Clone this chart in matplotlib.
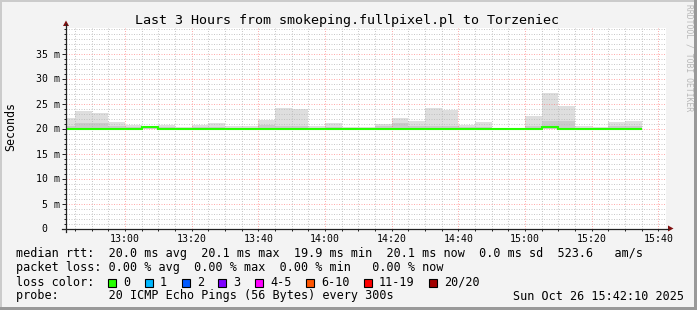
import numpy as np
import matplotlib.pyplot as plt
from matplotlib.patches import Rectangle, Polygon
from matplotlib.lines import Line2D
from matplotlib.ticker import FixedLocator, FuncFormatter

plt.rcParams['font.family'] = 'DejaVu Sans Mono'

W, H = 697, 310

# graph window: last 3 hours ending 15:42:10 (minutes since midnight)
t_end = 15 * 60 + 42 + 10 / 60
t_start = t_end - 180

# 5 minute buckets, first one starts at 12:40
bucket_start = 12 * 60 + 40
bucket_len = 5

# smoke (ms): top of the light band, top of the dense band, bottom
smoke_max = [22.2, 23.6, 23.1, 21.3, 20.8, 20.3, 20.7, 20.3, 20.7, 21.2,
             20.5, 20.5, 21.8, 24.1, 24.0, 20.5, 21.2, 20.4, 20.4, 20.9,
             22.1, 21.5, 24.1, 23.8, 20.8, 21.4, 20.2, 20.2, 22.6, 27.1,
             24.6, 20.5, 20.4, 21.3, 21.6]
smoke_mid = [20.5, 21.2, 21.1, 20.6, 20.3, 20.3, 20.3, 20.2, 20.3, 20.4,
             20.2, 20.2, 20.7, 20.6, 20.6, 20.2, 20.3, 20.2, 20.2, 20.5,
             21.1, 20.6, 20.6, 20.6, 20.3, 20.4, 20.1, 20.1, 20.6, 21.6,
             21.5, 20.2, 20.2, 20.5, 20.5]
smoke_min = [19.9, 19.9, 19.9, 19.9, 19.9, 19.9, 19.9, 19.9, 19.9, 19.9,
             19.9, 19.9, 19.9, 19.9, 19.9, 19.9, 19.9, 19.9, 19.9, 19.9,
             19.9, 19.9, 19.9, 19.9, 19.9, 19.9, 19.9, 19.9, 19.9, 19.9,
             19.9, 19.9, 19.9, 19.9, 19.9]
median_rtt = [20.0, 20.0, 20.0, 20.0, 20.0, 20.25, 20.0, 20.0, 20.0, 20.0,
              20.0, 20.0, 20.0, 20.0, 20.0, 20.0, 20.0, 20.0, 20.0, 20.0,
              20.0, 20.0, 20.0, 20.0, 20.0, 20.0, 20.0, 20.0, 20.0, 20.25,
              20.0, 20.0, 20.0, 20.0, 20.0]

rtt_stats = ['20.0', '20.1', '19.9', '20.1', '0.0', '523.6']
loss_stats = ['0.00', '0.00', '0.00', '0.00']
loss_labels = ['0', '1', '2', '3', '4-5', '6-10', '11-19', '20/20']
loss_colors = ['#26ff00', '#00b8ff', '#0059ff', '#7e00ff', '#ff00ff',
               '#ff5500', '#ff0000', '#a10000']

title = 'Last 3 Hours from smokeping.fullpixel.pl to Torzeniec'
probe = '20 ICMP Echo Pings (56 Bytes) every 300s'
stamp = 'Sun Oct 26 15:42:10 2025'


def fx(x):
    return x / W


def fy(y):
    return 1 - y / H


fig = plt.figure(figsize=(W / 100, H / 100), dpi=100)
fig.patch.set_facecolor('#f3f3f3')

# frame shading
fig.add_artist(Rectangle((0, fy(2)), 1, 2 / H, transform=fig.transFigure,
                         color='#cbcbcb', lw=0))
fig.add_artist(Rectangle((0, 0), 2 / W, 1, transform=fig.transFigure,
                         color='#cbcbcb', lw=0))
fig.add_artist(Rectangle((0, 0), 1, 3 / H, transform=fig.transFigure,
                         color='#999999', lw=0))
fig.add_artist(Rectangle((fx(694), 0), 3 / W, 1, transform=fig.transFigure,
                         color='#999999', lw=0))

y_top = 40.2
ax = fig.add_axes([fx(65.5), fy(228.5), 600 / W, (y_top * 5) / H])
ax.set_facecolor('white')
for s in ax.spines.values():
    s.set_visible(False)

edges = np.arange(len(smoke_max) + 1) * bucket_len + bucket_start
ax.stairs(smoke_max, edges, baseline=smoke_min, fill=True,
          color='#dedede', lw=0, zorder=1)
ax.stairs(smoke_mid, edges, baseline=smoke_min, fill=True,
          color='#cacaca', lw=0, zorder=1.1)
ax.stairs(median_rtt, edges, baseline=None, color='#26ff00', lw=1.5,
          zorder=3)

ax.set_xlim(t_start, t_end)
ax.set_ylim(0, y_top)

ax.xaxis.set_major_locator(FixedLocator(np.arange(780, 941, 20)))
ax.xaxis.set_minor_locator(FixedLocator(np.arange(765, 941, 5)))
ax.xaxis.set_major_formatter(
    FuncFormatter(lambda m, p: f'{int(m // 60):02d}:{int(m % 60):02d}'))
ax.yaxis.set_major_locator(FixedLocator(np.arange(0, 36, 5)))
ax.yaxis.set_minor_locator(FixedLocator(np.arange(1, 41, 1)))
ax.yaxis.set_major_formatter(
    FuncFormatter(lambda v, p: f'{int(v):>2} m' if v else ' 0'))

ax.grid(which='minor', color='#b8b8b8', lw=0.72, ls=(0, (1, 1.5)),
        alpha=0.75)
ax.grid(which='major', color='#ff5b5b', lw=0.72, ls=(0, (1, 1.5)),
        alpha=0.5)
ax.set_axisbelow(False)

ax.tick_params(axis='x', which='both', direction='out', length=1.5,
               width=0.72, color='#222222', labelsize=7.1, pad=2.3)
ax.tick_params(axis='y', which='major', direction='out', length=2.9,
               width=0.72, color='#222222', labelsize=7.1, pad=18.7)
ax.tick_params(axis='y', which='minor', direction='out', length=1.4,
               width=0.72, color='#222222')
for lab in ax.get_yticklabels():
    lab.set_horizontalalignment('left')

# axis lines with arrows
fig.add_artist(Line2D([fx(62), fx(668)], [fy(228.5), fy(228.5)],
                      transform=fig.transFigure, color='#222222', lw=0.9))
fig.add_artist(Line2D([fx(66), fx(66)], [fy(232), fy(24)],
                      transform=fig.transFigure, color='#222222', lw=0.9))
fig.add_artist(Polygon([(fx(668), fy(225.5)), (fx(673.5), fy(228.5)),
                        (fx(668), fy(231.5))], closed=True,
                       transform=fig.transFigure, color='#7f1010', lw=0))
fig.add_artist(Polygon([(fx(63), fy(26)), (fx(66), fy(20.5)),
                        (fx(69), fy(26))], closed=True,
                       transform=fig.transFigure, color='#7f1010', lw=0))

# texts
fig.text(fx(347), fy(24), title, ha='center', va='baseline', fontsize=9.6)
fig.text(fx(10.5), fy(126.5), 'Seconds', rotation=90, ha='center',
         va='center', fontsize=8.4)
fig.text(fx(688.5), fy(4.5), 'RRDTOOL / TOBI OETIKER', rotation=270,
         ha='center', va='top', fontsize=5.8, color='#b8b8b8')

fs = 8.5
cw = 7.1
x0 = 16
row1 = ('median rtt:  {} ms avg  {} ms max  {} ms min  {} ms now  '
        '{} ms sd  {}   am/s').format(*rtt_stats)
row2 = 'packet loss: {} % avg  {} % max  {} % min   {} % now'.format(*loss_stats)
fig.text(fx(x0), fy(257.5), row1, ha='left', va='baseline', fontsize=fs)
fig.text(fx(x0), fy(271.5), row2, ha='left', va='baseline', fontsize=fs)
fig.text(fx(x0), fy(285.5), 'loss color:', ha='left', va='baseline',
         fontsize=fs)
xs = x0 + 13 * cw
for lab, col in zip(loss_labels, loss_colors):
    fig.add_artist(Rectangle((fx(xs), fy(286.5)), 8 / W, 8 / H,
                             transform=fig.transFigure, facecolor=col,
                             edgecolor='black', lw=0.8))
    fig.text(fx(xs + 15), fy(285.5), lab, ha='left', va='baseline',
             fontsize=fs)
    xs += 15 + len(lab) * cw + 14.6
fig.text(fx(x0), fy(299.5), 'probe:       ' + probe, ha='left',
         va='baseline', fontsize=fs)
fig.text(fx(513.3), fy(299.5), stamp, ha='left', va='baseline', fontsize=fs)

fig.savefig('out.png', dpi=100, facecolor=fig.get_facecolor())
